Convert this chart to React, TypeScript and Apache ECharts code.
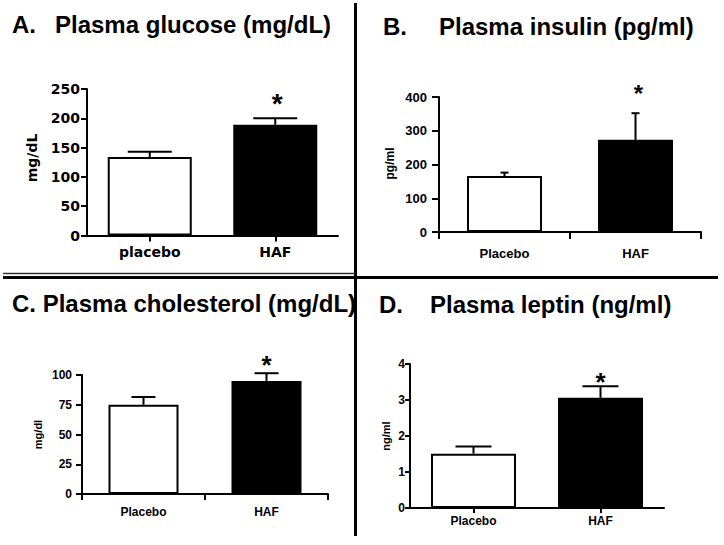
import React, { useEffect, useRef } from "react";
import * as echarts from "echarts";

// ---- data ----
const categoriesA = ["placebo", "HAF"];
const categoriesBCD = ["Placebo", "HAF"];
const glucoseMean = [134, 189];
const glucoseSem = [9, 11];
const insulinMean = [166, 273];
const insulinSem = [10, 79];
const cholesterolMean = [75, 95];
const cholesterolSem = [6.5, 6.5];
const leptinMean = [1.51, 3.06];
const leptinSem = [0.2, 0.32];
const significant = [false, true];
const glucoseAxis = [0, 250, 50];
const insulinAxis = [0, 400, 100];
const cholesterolAxis = [0, 100, 25];
const leptinAxis = [0, 4, 1];
const titles = [
  ["A.", "Plasma glucose (mg/dL)"],
  ["B.", "Plasma insulin (pg/ml)"],
  ["C. Plasma cholesterol (mg/dL)", ""],
  ["D.", "Plasma leptin (ng/ml)"],
];
const yNames = ["mg/dL", "pg/ml", "mg/dl", "ng/ml"];

const ARIAL = "'Liberation Sans', Arial, Helvetica, sans-serif";
const DEJAVU = "'DejaVu Sans', 'Liberation Sans', Arial, sans-serif";

const panels = [
  {
    cats: categoriesA, mean: glucoseMean, sem: glucoseSem, axis: glucoseAxis,
    grid: { left: 87, top: 89, width: 251, height: 146.5 },
    barWidth: 84, cap: 44, tickCenter: true, font: DEJAVU,
    tickFont: 14, xMargin: 9, yMargin: 7, tickLen: 6,
    star: { size: 28, gap: 18, dx: 2 },
    title: { x1: 12, x2: 55, y: 24.5, size: 24 },
    yName: { x: 32, y: 158, size: 14 },
  },
  {
    cats: categoriesBCD, mean: insulinMean, sem: insulinSem, axis: insulinAxis,
    grid: { left: 439, top: 97, width: 262, height: 135 },
    barWidth: 75, cap: 8, tickCenter: false, font: ARIAL,
    tickFont: 13, xMargin: 15, yMargin: 12, tickLen: 7,
    star: { size: 24, gap: 22, dx: 3 },
    title: { x1: 383, x2: 439, y: 26.5, size: 24 },
    yName: { x: 390, y: 163.5, size: 12 },
  },
  {
    cats: categoriesBCD, mean: cholesterolMean, sem: cholesterolSem, axis: cholesterolAxis,
    grid: { left: 82, top: 375, width: 246, height: 119 },
    barWidth: 70, cap: 24, tickCenter: false, font: ARIAL,
    tickFont: 12, xMargin: 12, yMargin: 10, tickLen: 6,
    star: { size: 26, gap: 11, dx: 0 },
    title: { x1: 12, x2: 0, y: 303, size: 24 },
    yName: { x: 37.5, y: 434.5, size: 11 },
  },
  {
    cats: categoriesBCD, mean: leptinMean, sem: leptinSem, axis: leptinAxis,
    grid: { left: 410, top: 364, width: 254, height: 144 },
    barWidth: 85, cap: 36, tickCenter: true, font: ARIAL,
    tickFont: 12, xMargin: 7, yMargin: 5, tickLen: 5,
    star: { size: 26, gap: 7, dx: 0 },
    title: { x1: 379, x2: 430, y: 304.5, size: 24 },
    yName: { x: 386, y: 436, size: 11 },
  },
];

function buildOption() {
  const grid = panels.map((p) => ({ ...p.grid, containLabel: false, outerBoundsMode: "none" }));
  const xAxis = panels.map((p, i) => ({
    type: "category",
    gridIndex: i,
    data: p.cats,
    axisLine: { show: true, lineStyle: { color: "#000", width: 2 } },
    axisTick: { show: true, alignWithLabel: p.tickCenter, length: p.tickLen, lineStyle: { color: "#000", width: 2 } },
    axisLabel: { color: "#000", fontFamily: p.font, fontWeight: "bold", fontSize: p.tickFont, margin: p.xMargin },
    splitLine: { show: false },
  }));
  const yAxis = panels.map((p, i) => ({
    type: "value",
    gridIndex: i,
    min: p.axis[0],
    max: p.axis[1],
    interval: p.axis[2],
    axisLine: { show: true, lineStyle: { color: "#000", width: 2 } },
    axisTick: { show: true, length: p.tickLen, lineStyle: { color: "#000", width: 2 } },
    axisLabel: { color: "#000", fontFamily: p.font, fontWeight: "bold", fontSize: p.tickFont, margin: p.yMargin },
    splitLine: { show: false },
  }));
  const series: any[] = [];
  panels.forEach((p, i) => {
    series.push({
      type: "bar",
      xAxisIndex: i,
      yAxisIndex: i,
      barWidth: p.barWidth,
      data: p.mean.map((v, j) => ({
        value: v,
        itemStyle: j === 0
          ? { color: "#fff", borderColor: "#000", borderWidth: 2 }
          : { color: "#000", borderColor: "#000", borderWidth: 2 },
      })),
      z: 2,
    });
    series.push({
      type: "custom",
      xAxisIndex: i,
      yAxisIndex: i,
      z: 3,
      encode: { x: 0, y: 1 },
      data: p.mean.map((v, j) => [j, v, p.sem[j], significant[j] ? 1 : 0]),
      renderItem: (params: any, api: any) => {
        const idx = api.value(0);
        const m = api.value(1);
        const e = api.value(2);
        const sig = api.value(3);
        const base = api.coord([idx, m]);
        const top = api.coord([idx, m + e]);
        const half = p.cap / 2;
        const children: any[] = [
          { type: "line", shape: { x1: base[0], y1: base[1], x2: top[0], y2: top[1] }, style: { stroke: "#000", lineWidth: 2 } },
          { type: "line", shape: { x1: top[0] - half, y1: top[1], x2: top[0] + half, y2: top[1] }, style: { stroke: "#000", lineWidth: 2 } },
        ];
        if (sig) {
          children.push({
            type: "text",
            x: top[0] + p.star.dx,
            y: top[1] - p.star.gap + 0.1 * p.star.size,
            style: { text: "*", fill: "#000", fontSize: p.star.size, fontWeight: "bold", fontFamily: ARIAL, align: "center", verticalAlign: "middle" },
          });
        }
        return { type: "group", children };
      },
    });
  });

  const graphic: any[] = [];
  panels.forEach((p, i) => {
    graphic.push({
      type: "text", x: p.title.x1, y: p.title.y,
      style: { text: titles[i][0], fill: "#000", fontSize: p.title.size, fontWeight: "bold", fontFamily: ARIAL, align: "left", verticalAlign: "middle" },
    });
    if (titles[i][1]) {
      graphic.push({
        type: "text", x: p.title.x2, y: p.title.y,
        style: { text: titles[i][1], fill: "#000", fontSize: p.title.size, fontWeight: "bold", fontFamily: ARIAL, align: "left", verticalAlign: "middle" },
      });
    }
    graphic.push({
      type: "text", x: p.yName.x, y: p.yName.y, rotation: Math.PI / 2,
      style: { text: yNames[i], fill: "#000", fontSize: p.yName.size, fontWeight: "bold", fontFamily: p.font, align: "center", verticalAlign: "middle" },
    });
  });
  // dividers
  graphic.push({ type: "line", shape: { x1: 355.5, y1: 3, x2: 355.5, y2: 536 }, style: { stroke: "#000", lineWidth: 3 } });
  graphic.push({ type: "line", shape: { x1: 3, y1: 273.5, x2: 355, y2: 273.5 }, style: { stroke: "#333", lineWidth: 1.3 } });
  graphic.push({ type: "line", shape: { x1: 3, y1: 277.5, x2: 718, y2: 277.5 }, style: { stroke: "#000", lineWidth: 3 } });

  return { animation: false, backgroundColor: "#fff", grid, xAxis, yAxis, series, graphic };
}

export default function App() {
  const ref = useRef<HTMLDivElement>(null);
  useEffect(() => {
    document.body.style.margin = "0";
    const chart = echarts.init(ref.current as HTMLDivElement, undefined, { renderer: "svg" });
    chart.setOption(buildOption() as any);
    return () => chart.dispose();
  }, []);
  return <div ref={ref} style={{ width: 724, height: 545 }} />;
}
